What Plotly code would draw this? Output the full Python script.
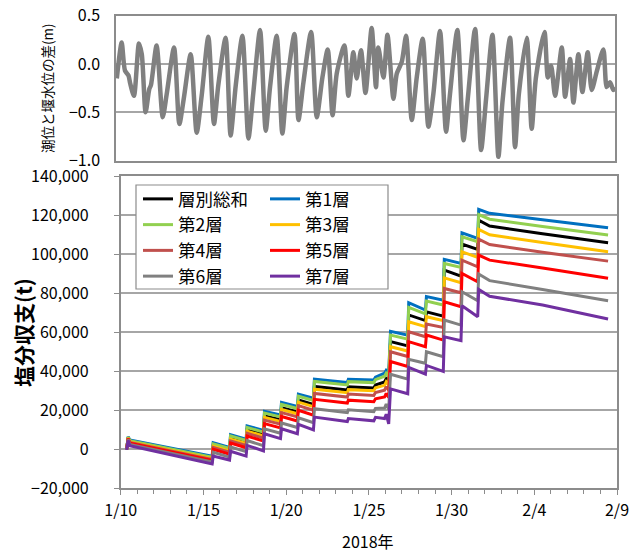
import plotly.graph_objects as go

W, H = 632, 553
FONT = "Noto Sans CJK JP"


def px(p):
    return p / W


def py(p):
    return 1 - p / H


# ---------------- top panel: tide level minus weir level (m) ----------------
tide_days = [0.05, 0.34, 0.54, 0.75, 0.85, 1.08, 1.38, 1.55, 1.78, 2.00, 2.10, 2.44,
             2.81, 3.05, 3.49, 3.81, 4.09, 4.49, 4.85, 5.15, 5.55, 5.89, 6.15, 6.59,
             6.89, 7.20, 7.60, 7.96, 8.26, 8.66, 9.00, 9.26, 9.66, 10.00, 10.26, 10.73,
             10.97, 11.27, 11.73, 12.07, 12.41, 12.73, 13.02, 13.27, 13.73, 13.97, 14.27,
             14.47, 14.73, 15.00, 15.37, 15.63, 15.77, 16.08, 16.32, 16.68, 16.88, 17.18,
             17.44, 17.78, 18.08, 18.44, 18.78, 19.08, 19.48, 19.84, 20.08, 20.52, 20.89,
             21.15, 21.59, 21.95, 22.25, 22.63, 22.99, 23.23, 23.69, 23.99, 24.22, 24.69,
             24.99, 25.24, 25.76, 25.96, 26.16, 26.40, 26.80, 27.00, 27.30, 27.50, 27.80,
             28.04, 28.36, 28.60, 28.90, 29.30, 29.50, 29.70, 29.90, 30.00]
tide_diff = [-0.15, 0.22, -0.07, -0.12, -0.20, -0.33, 0.21, 0.10, -0.50, -0.26, -0.22, 0.19,
             -0.55, -0.31, 0.17, -0.62, -0.34, 0.10, -0.71, -0.33, 0.28, -0.62, -0.22, 0.27,
             -0.74, -0.22, 0.29, -0.77, -0.29, 0.35, -0.69, -0.24, 0.29, -0.72, -0.24, 0.31,
             -0.58, -0.19, 0.33, -0.55, -0.14, 0.15, -0.53, -0.10, 0.19, -0.33, 0.12,
             -0.15, 0.14, -0.30, 0.37, -0.24, 0.17, -0.14, 0.30, -0.36, -0.10, 0.02,
             0.29, -0.58, -0.14, 0.26, -0.65, -0.31, 0.34, -0.70, -0.31, 0.35, -0.79,
             -0.36, 0.36, -0.89, -0.36, 0.30, -0.96, -0.40, 0.27, -0.86, -0.31, 0.27,
             -0.67, -0.15, 0.33, -0.14, -0.02, -0.33, 0.17, -0.34, 0.05, -0.40, 0.10,
             -0.29, 0.12, -0.27, -0.08, 0.15, -0.24, -0.19, -0.27, -0.24]

# ---------------- bottom panel: salt balance (t) ----------------
days = [0.36, 0.45, 0.55, 5.53, 5.59, 6.58, 6.64, 7.58, 7.64, 8.63, 8.69, 9.66, 9.72,
        10.68, 10.74, 11.65, 11.71, 13.70, 13.76, 15.30, 15.40, 15.95, 16.05, 16.20,
        16.31, 17.35, 17.41, 18.42, 18.48, 19.50, 19.56, 20.57, 20.63, 21.58, 21.64,
        22.30, 25.50, 29.46]

total = [0, 6100, 4000, -4500, 2000, -300, 5800, 3600, 10000, 7600, 17200, 15200, 21300,
         19200, 25300, 23000, 32200, 30400, 32000, 31500, 33000, 34500, 36200, 34800,
         55200, 53000, 68900, 66000, 70500, 68300, 91900, 88800, 105200, 102500, 117500,
         114500, 110500, 105900]
layer1 = [0, 6500, 4800, -3500, 3400, 1000, 7500, 5200, 12000, 9700, 19500, 17600, 24000,
          22000, 28300, 26200, 36000, 34200, 35900, 35500, 37000, 39000, 40500, 39500,
          60500, 58500, 75200, 71400, 78300, 76500, 97400, 95300, 111000, 108200, 123000,
          121000, 117700, 113600]
layer2 = [0, 6300, 4400, -4000, 2800, 400, 6800, 4500, 11200, 8800, 18600, 16600, 23000,
          20900, 27200, 25000, 34800, 33000, 34700, 34200, 35700, 37500, 39000, 37800,
          58600, 56500, 72800, 69400, 76000, 74000, 95300, 93300, 109000, 106500, 120400,
          118000, 114200, 109900]
layer3 = [0, 5900, 3800, -4800, 1600, -800, 5200, 3000, 9300, 6900, 16400, 14300, 20400,
          18200, 24200, 21900, 30800, 29000, 30600, 30000, 31500, 32800, 34600, 33000,
          52600, 50400, 65400, 62900, 68000, 66000, 87900, 85400, 101300, 98400, 112800,
          110000, 106000, 101300]
layer4 = [0, 5700, 3500, -5200, 900, -1500, 4300, 2000, 8200, 5700, 15000, 12900, 18800,
          16600, 22400, 20000, 28600, 26800, 28300, 27600, 29100, 30300, 32200, 30300,
          50000, 47600, 60300, 57700, 64200, 62500, 82500, 80300, 97000, 93600, 107800,
          105000, 101000, 96500]
layer5 = [0, 5400, 3100, -5700, 0, -2500, 3200, 800, 6800, 4200, 13200, 11000, 16800,
          14500, 20000, 17500, 25600, 23700, 25200, 24400, 25900, 26800, 28700, 26600,
          45000, 42500, 55200, 52600, 58600, 56000, 75700, 73100, 90200, 85900, 99600,
          97000, 93000, 87700]
layer6 = [0, 5000, 2500, -6500, -1500, -4000, 1200, -1200, 4500, 1800, 10500, 8200, 13500,
          11200, 16200, 13600, 20800, 18800, 20300, 19300, 21000, 21200, 23200, 20500,
          38500, 36000, 46100, 44100, 50000, 47500, 66300, 63700, 80800, 76200, 89900,
          86500, 82000, 76200]
layer7 = [-300, 4500, 1800, -7500, -3500, -5500, -1000, -3500, 2000, -800, 8000, 5500, 10500,
          8000, 12800, 10000, 16500, 14200, 15800, 14600, 16400, 15800, 18000, 13000,
          31000, 28500, 42000, 38500, 43000, 40000, 57700, 55700, 73600, 68000, 82000,
          78500, 74000, 66800]

series_names = ["層別総和", "第1層", "第2層", "第3層", "第4層", "第5層", "第6層", "第7層"]
series_values = [total, layer1, layer2, layer3, layer4, layer5, layer6, layer7]
series_colors = ["#000000", "#0070C0", "#92D050", "#FFC000", "#C0504D", "#FF0000",
                 "#808080", "#7030A0"]
series_legend = ["legend", "legend2", "legend", "legend2", "legend", "legend2",
                 "legend", "legend2"]

x_tick_vals = [0, 5, 10, 15, 20, 25, 30]
x_tick_text = ["1/10", "1/15", "1/20", "1/25", "1/30", "2/4", "2/9"]
top_tick_vals = [-1.0, -0.5, 0.0, 0.5]

AXIS = "#8c8c8c"
GRID = "#a6a6a6"

fig = go.Figure()
fig.add_trace(go.Scatter(
    x=tide_days, y=tide_diff, xaxis="x2", yaxis="y2", mode="lines",
    line=dict(color="#808080", width=4.5, shape="spline", smoothing=0.7),
    showlegend=False, hoverinfo="skip"))

for name, vals, col, leg in zip(series_names, series_values, series_colors, series_legend):
    fig.add_trace(go.Scatter(
        x=days, y=vals, mode="lines", name=name, legend=leg,
        line=dict(color=col, width=3)))

legend_common = dict(xanchor="left", yanchor="top", bgcolor="rgba(0,0,0,0)",
                     borderwidth=0, tracegroupgap=0,
                     font=dict(family=FONT, size=17.5, color="#000000"))

fig.update_layout(
    width=W, height=H,
    margin=dict(l=0, r=0, t=0, b=0, autoexpand=False),
    paper_bgcolor="white", plot_bgcolor="white",
    font=dict(family=FONT, size=16, color="#000000"),
    xaxis=dict(domain=[px(120.7), px(617)], range=[0, 30], anchor="y", automargin=False,
               showline=True, mirror=True, linecolor=AXIS, linewidth=1.5,
               ticks="outside", ticklen=5, tickcolor=AXIS, tickwidth=1,
               tickmode="array", tickvals=x_tick_vals, ticktext=x_tick_text,
               tickfont=dict(size=16), ticklabelstandoff=2,
               showgrid=False, zeroline=False,
               minor=dict(tickmode="linear", tick0=0, dtick=1, ticks="outside",
                          ticklen=4, tickcolor=AXIS, showgrid=False)),
    yaxis=dict(domain=[py(488.3), py(176.3)], range=[-20000, 140000], anchor="x",
               automargin=False, tick0=0, dtick=20000, tickformat=",",
               showline=True, mirror=True, linecolor=AXIS, linewidth=1.5,
               ticks="outside", ticklen=5, tickcolor=AXIS,
               tickfont=dict(size=16), ticklabelstandoff=22,
               showgrid=True, gridcolor=GRID, gridwidth=1.5, zeroline=False),
    xaxis2=dict(domain=[px(116), px(615)], range=[0, 30], anchor="y2", automargin=False,
                showline=True, mirror=True, linecolor=AXIS, linewidth=1.5,
                showticklabels=False, ticks="", showgrid=False, zeroline=False),
    yaxis2=dict(domain=[py(160.7), py(15.5)], range=[-1.0, 0.5], anchor="x2",
                automargin=False, tickmode="array", tickvals=top_tick_vals,
                tickformat=".1f",
                showline=True, mirror=True, linecolor=AXIS, linewidth=1.5,
                ticks="", tickfont=dict(size=16), ticklabelstandoff=11,
                showgrid=True, gridcolor=GRID, gridwidth=1.5, zeroline=False),
    legend=dict(x=px(138), y=py(181), **legend_common),
    legend2=dict(x=px(265), y=py(181), **legend_common),
    shapes=[dict(type="rect", xref="paper", yref="paper",
                 x0=px(136), x1=px(388), y0=py(289), y1=py(185),
                 line=dict(color=AXIS, width=1.2), fillcolor="white", layer="above")],
    annotations=[
        dict(text="潮位と堰水位の差(m)", xref="paper", yref="paper",
             x=px(47), y=py(88), xanchor="center", yanchor="middle",
             textangle=-90, showarrow=False,
             font=dict(size=13.5, family=FONT)),
        dict(text="<b>塩分収支(t)</b>", xref="paper", yref="paper",
             x=px(23), y=py(333), xanchor="center", yanchor="middle",
             textangle=-90, showarrow=False,
             font=dict(size=21, family=FONT)),
        dict(text="2018年", xref="paper", yref="paper",
             x=px(368), y=py(541), xanchor="center", yanchor="middle",
             showarrow=False, font=dict(size=16, family=FONT)),
    ],
)

fig.write_html("out.html", config={"displayModeBar": False},
               post_script="document.body.style.margin='0';")
